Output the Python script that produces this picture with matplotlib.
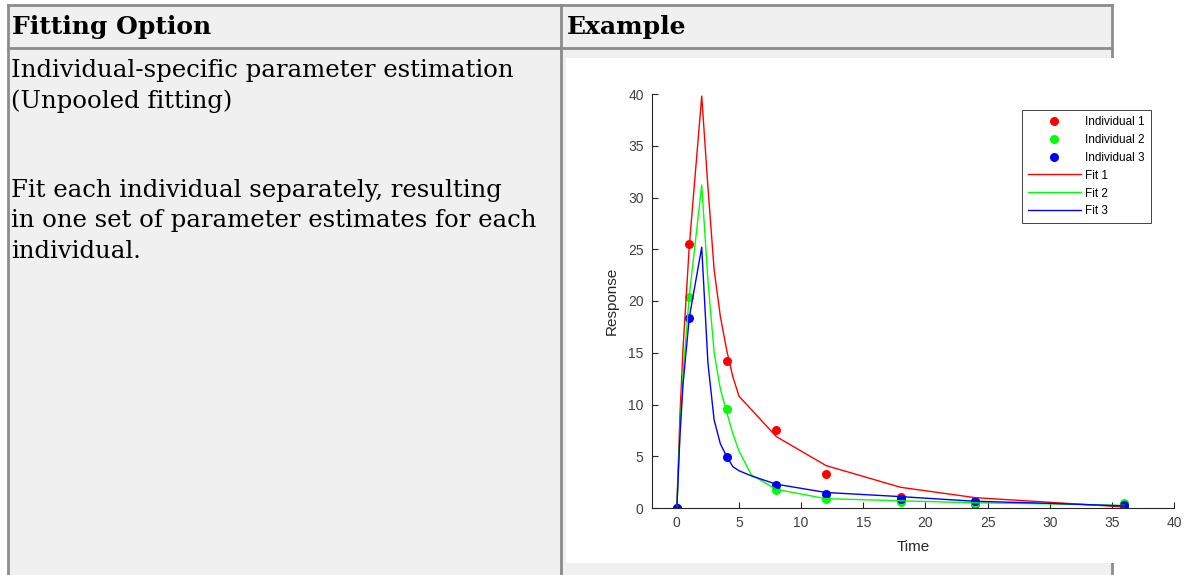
import matplotlib.pyplot as plt
from matplotlib.patches import Rectangle

t_obs = [0, 1, 4, 8, 12, 18, 24, 36]
ind1 = [0, 25.5, 14.2, 7.5, 3.3, 1.1, 0.4, 0.1]
ind2 = [0, 20.4, 9.6, 1.7, 0.9, 0.6, 0.5, 0.5]
ind3 = [0, 18.4, 4.9, 2.2, 1.4, 0.9, 0.7, 0.3]

# fitted curves
t_fit = [0, 0.25, 0.5, 1, 2, 2.5, 3, 3.5, 4, 4.5, 5, 6, 8, 12, 18, 24, 30, 36]
fit1 = [0, 9.0, 15.5, 25.3, 39.8, 31.0, 23.0, 18.5, 15.3, 12.7, 10.8, 9.5, 6.9, 4.1, 2.0, 1.0, 0.55, 0.1]
fit2 = [0, 7.5, 13.0, 20.5, 31.2, 22.0, 15.0, 11.5, 9.3, 7.2, 5.5, 3.2, 1.8, 0.9, 0.7, 0.5, 0.4, 0.25]
fit3 = [0, 7.0, 12.0, 18.4, 25.2, 14.0, 8.5, 6.2, 5.0, 4.0, 3.6, 3.1, 2.3, 1.5, 1.1, 0.65, 0.45, 0.2]

header = ["Fitting Option", "Example"]
body_lines = ["Individual-specific parameter estimation",
              "(Unpooled fitting)",
              "",
              "",
              "Fit each individual separately, resulting",
              "in one set of parameter estimates for each",
              "individual."]

W, H = 1192, 575
fig = plt.figure(figsize=(W / 100, H / 100), dpi=100)

# table drawn in pixel coordinates
bg = fig.add_axes([0, 0, 1, 1])
bg.set_xlim(0, W)
bg.set_ylim(H, 0)
bg.axis('off')

gray = '#f0f0f0'
line_c = '#8c8c8c'
bg.add_patch(Rectangle((8, 5), 1112 - 8, H - 5 + 10, facecolor=gray, edgecolor='none', zorder=0))

bg.plot([8, 1112], [5, 5], color=line_c, lw=2, zorder=1)
bg.plot([8, 1112], [48, 48], color=line_c, lw=2, zorder=1)
bg.plot([8, 8], [5, H + 5], color=line_c, lw=2, zorder=1)
bg.plot([561, 561], [5, H + 5], color=line_c, lw=2, zorder=1)
bg.plot([1112, 1112], [5, H + 5], color=line_c, lw=2, zorder=1)

# white image area of the example, covering the right border
bg.add_patch(Rectangle((566, 58), W - 566 + 5, 563 - 58, facecolor='white', edgecolor='none', zorder=3))

bg.text(12, 27, header[0], fontsize=18, fontweight='bold', family='DejaVu Serif',
        va='center', ha='left', color='black')
bg.text(567, 27, header[1], fontsize=18, fontweight='bold', family='DejaVu Serif',
        va='center', ha='left', color='black')
y = 71
for ln in body_lines:
    if ln:
        bg.text(11, y, ln, fontsize=17.6, family='DejaVu Serif', va='center', ha='left')
    y += 30

# the chart
ax = fig.add_axes([652 / W, (H - 508) / H, (1174 - 652) / W, (508 - 94) / H])
ax.plot(t_obs, ind1, 'o', color='red', ms=6.5, mew=0, label='Individual 1')
ax.plot(t_obs, ind2, 'o', color='#00ff00', ms=6.5, mew=0, label='Individual 2')
ax.plot(t_obs, ind3, 'o', color='blue', ms=6.5, mew=0, label='Individual 3')
ax.plot(t_fit, fit1, color='red', lw=1, label='Fit 1')
ax.plot(t_fit, fit2, color='#00ff00', lw=1, label='Fit 2')
ax.plot(t_fit, fit3, color='blue', lw=1, label='Fit 3')

ax.set_xlim(-2, 40)
ax.set_ylim(0, 40)
ax.set_xticks(range(0, 41, 5))
ax.set_yticks(range(0, 41, 5))
ax.spines['top'].set_visible(False)
ax.spines['right'].set_visible(False)
for s in ['left', 'bottom']:
    ax.spines[s].set_color('#262626')
    ax.spines[s].set_linewidth(0.8)
ax.tick_params(direction='in', length=4, labelsize=10, colors='#262626', pad=6)
for lab in ax.get_xticklabels() + ax.get_yticklabels():
    lab.set_family('Liberation Sans')
    lab.set_color('#404040')
ax.set_xlabel('Time', fontsize=11, family='Liberation Sans', color='#262626', labelpad=7)
ax.set_ylabel('Response', fontsize=11, family='Liberation Sans', color='#262626', labelpad=7)
ax.patch.set_alpha(0)
ax.set_zorder(5)

leg = ax.legend(loc='upper right',
                bbox_to_anchor=((1151 - 652) / (1174 - 652), (508 - 110) / (508 - 94)),
                prop={'family': 'Liberation Sans', 'size': 8.5}, fancybox=False,
                edgecolor='#262626', framealpha=1, borderaxespad=0,
                handlelength=4.5, labelspacing=0.5, borderpad=0.5, handletextpad=0.4)
leg.get_frame().set_linewidth(0.6)

plt.savefig('out.png', dpi=100)
